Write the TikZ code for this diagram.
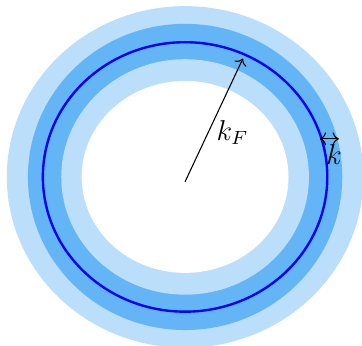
\documentclass[tikz,border=0pt]{standalone}
\usepackage{amsmath}
\usepackage{xcolor}
\usepackage{tikz}
\usetikzlibrary{arrows.meta,positioning}
\definecolor{shellpale}{RGB}{187,222,251}
\definecolor{shellmid}{RGB}{100,181,246}
\definecolor{fermiblue}{RGB}{0,0,255}

\begin{document}
\begin{tikzpicture}[font=\large,
      fermi/.style={draw=fermiblue, line width=1pt},
      vec/.style={->, line width=0.45pt}]
    \clip (-2.72,-2.47) rectangle (2.60,2.60);
    \coordinate (O) at (0,0);
    \foreach \rx/\ry/\col in {2.62/2.51/shellpale, 2.31/2.25/shellmid,
                              1.82/1.73/shellpale, 1.52/1.41/white} {
      \fill[\col] (O) ellipse (\rx cm and \ry cm);
    }
    \draw[fermi] (O) ellipse (2.09cm and 1.98cm);
    \coordinate (tail) at (0,-0.07);
    \coordinate (kF) at (0.85,1.74);
    \draw[vec] (tail) -- node[pos=0.4, right] {$k_F$} (kF);
    \coordinate (kl) at (1.98,0.56);
    \coordinate (kr) at (2.26,0.56);
    \draw[vec, <->] (kl) -- node[pos=0.75, below, inner sep=2pt] {$k$} (kr);
  \end{tikzpicture}
\end{document}
